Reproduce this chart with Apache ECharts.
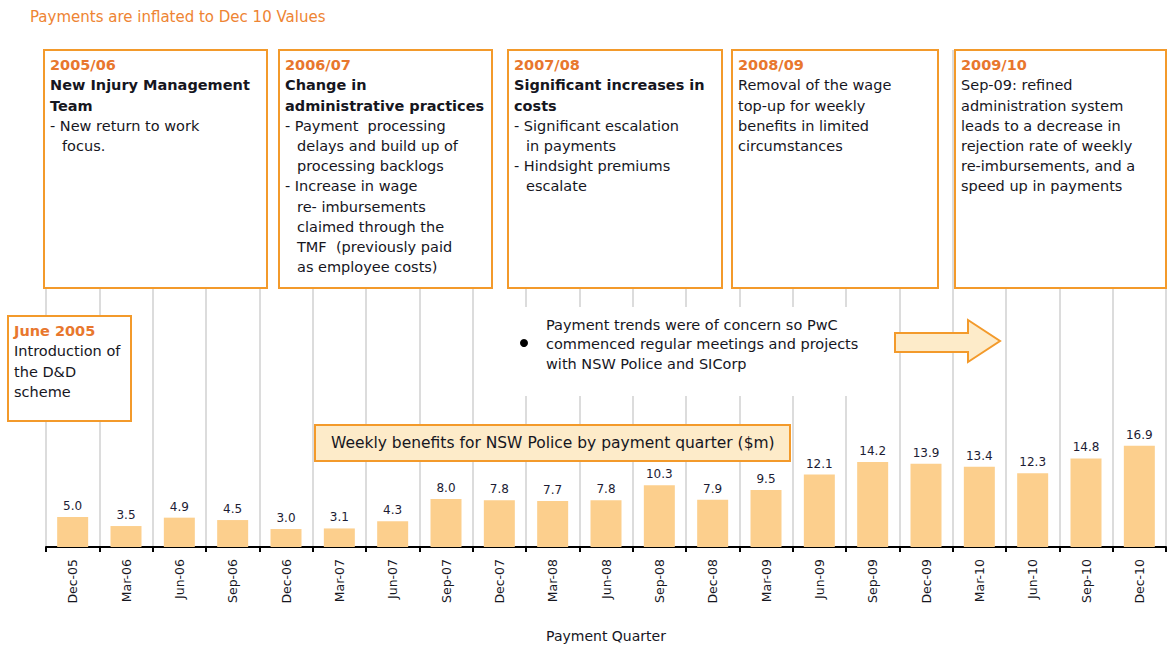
<!DOCTYPE html>
<html><head><meta charset="utf-8">
<script src="https://cdn.jsdelivr.net/npm/echarts@6/dist/echarts.min.js"></script>
<style>html,body{margin:0;padding:0;background:#fff}#c{width:1170px;height:648px}</style>
</head><body><div id="c"></div>
<script>
const categories = ['Dec-05','Mar-06','Jun-06','Sep-06','Dec-06','Mar-07','Jun-07','Sep-07','Dec-07','Mar-08','Jun-08','Sep-08','Dec-08','Mar-09','Jun-09','Sep-09','Dec-09','Mar-10','Jun-10','Sep-10','Dec-10'];
const weeklyBenefits = [5.0,3.5,4.9,4.5,3.0,3.1,4.3,8.0,7.8,7.7,7.8,10.3,7.9,9.5,12.1,14.2,13.9,13.4,12.3,14.8,16.9];
const noteTitle = 'Payments are inflated to Dec 10 Values';
const seriesLabel = 'Weekly benefits for NSW Police by payment quarter ($m)';
const axisTitle = 'Payment Quarter';
const trendNote = ['Payment trends were of concern so PwC','commenced regular meetings and projects','with NSW Police and SICorp'];
// each line: [style, text]  y=year, b=bold, n=normal, ni=normal indented
const box0506 = [['y','2005/06'],['b','New Injury Management'],['b','Team'],['n','- New return to work'],['ni','focus.']];
const box0607 = [['y','2006/07'],['b','Change in'],['b','administrative practices'],['n','- Payment  processing'],['ni','delays and build up of'],['ni','processing backlogs'],['n','- Increase in wage'],['ni','re- imbursements'],['ni','claimed through the'],['ni','TMF  (previously paid'],['ni','as employee costs)']];
const box0708 = [['y','2007/08'],['b','Significant increases in'],['b','costs'],['n','- Significant escalation'],['ni','in payments'],['n','- Hindsight premiums'],['ni','escalate']];
const box0809 = [['y','2008/09'],['n','Removal of the wage'],['n','top-up for weekly'],['n','benefits in limited'],['n','circumstances']];
const box0910 = [['y','2009/10'],['n','Sep-09: refined'],['n','administration system'],['n','leads to a decrease in'],['n','rejection rate of weekly'],['n','re-imbursements, and a'],['n','speed up in payments']];
const boxJune05 = [['y','June 2005'],['n','Introduction of'],['n','the D&D'],['n','scheme']];

const ORANGE = '#F39A2B', YEAR = '#E8772E', INK = '#16161e', FONT = '"DejaVu Sans", Verdana, sans-serif';
const FS = 14.5;
const rich = {
  y:{fontFamily:FONT,fontSize:FS,fontWeight:'bold',fill:YEAR,lineHeight:20.2},
  b:{fontFamily:FONT,fontSize:FS,fontWeight:'bold',fill:INK,lineHeight:20.2},
  n:{fontFamily:FONT,fontSize:FS,fill:INK,lineHeight:20.2},
  ni:{fontFamily:FONT,fontSize:FS,fill:INK,lineHeight:20.2,padding:[0,0,0,12]}
};
function boxText(lines){ return lines.map(l => '{'+l[0]+'|'+l[1]+'}').join('\n'); }
function box(x,y,w,h,lines){
  return {type:'group',z:100,children:[
    {type:'rect',shape:{x:x,y:y,width:w,height:h},style:{fill:'#fff',stroke:ORANGE,lineWidth:2},z:100},
    {type:'text',x:x+6,y:y+5,z:101,style:{text:boxText(lines),rich:rich,verticalAlign:'top',align:'left'}}
  ]};
}

const chart = echarts.init(document.getElementById('c'), null, {renderer:'svg'});
chart.setOption({
  backgroundColor:'#fff',
  animation:false,
  grid:{left:46,right:4,top:50,bottom:94},
  xAxis:{type:'category',data:categories,
    name:axisTitle,nameLocation:'middle',nameGap:82,
    nameTextStyle:{fontFamily:FONT,fontSize:14,color:INK},
    axisLine:{lineStyle:{color:'#000',width:2}},
    axisTick:{show:true,length:5,lineStyle:{color:'#000',width:2}},
    axisLabel:{rotate:90,fontFamily:FONT,fontSize:12.5,color:INK,margin:12},
    splitLine:{show:true,lineStyle:{color:'#DCDCDC',width:2}}},
  yAxis:{type:'value',min:0,max:83,show:false,splitLine:{show:false}},
  series:[{type:'bar',data:weeklyBenefits,barWidth:31,
    itemStyle:{color:'#FCCF8D'},
    label:{show:true,position:'top',distance:5,formatter:p=>p.value.toFixed(1),fontFamily:FONT,fontSize:12,color:'#1c1c34'}}],
  graphic:[
    {type:'text',x:30,y:17,z:100,style:{text:noteTitle,fontFamily:FONT,fontSize:15,fill:'#EE8433',verticalAlign:'middle'}},
    box(44,50,223,238,box0506),
    box(279,50,213,238,box0607),
    box(508,50,214,238,box0708),
    box(732,50,206,238,box0809),
    box(955,50,211,238,box0910),
    box(8,316,123,105,boxJune05),
    {type:'rect',z:90,shape:{x:505,y:307,width:385,height:89},style:{fill:'#fff'}},
    {type:'circle',z:100,shape:{cx:524,cy:343,r:4},style:{fill:'#000'}},
    {type:'text',x:546,y:315,z:100,style:{text:trendNote.join('\n'),fontFamily:FONT,fontSize:14.5,fill:INK,lineHeight:19.5,verticalAlign:'top'}},
    {type:'polygon',z:100,shape:{points:[[895,333],[968,333],[968,320],[1000,341],[968,362],[968,352],[895,352]]},style:{fill:'#FDEBC9',stroke:ORANGE,lineWidth:2}},
    {type:'rect',z:100,shape:{x:315,y:425,width:475,height:36},style:{fill:'#FDEBC9',stroke:ORANGE,lineWidth:2}},
    {type:'text',x:331,y:443,z:101,style:{text:seriesLabel,fontFamily:FONT,fontSize:15.5,fill:INK,verticalAlign:'middle'}}
  ]
});
</script></body></html>
